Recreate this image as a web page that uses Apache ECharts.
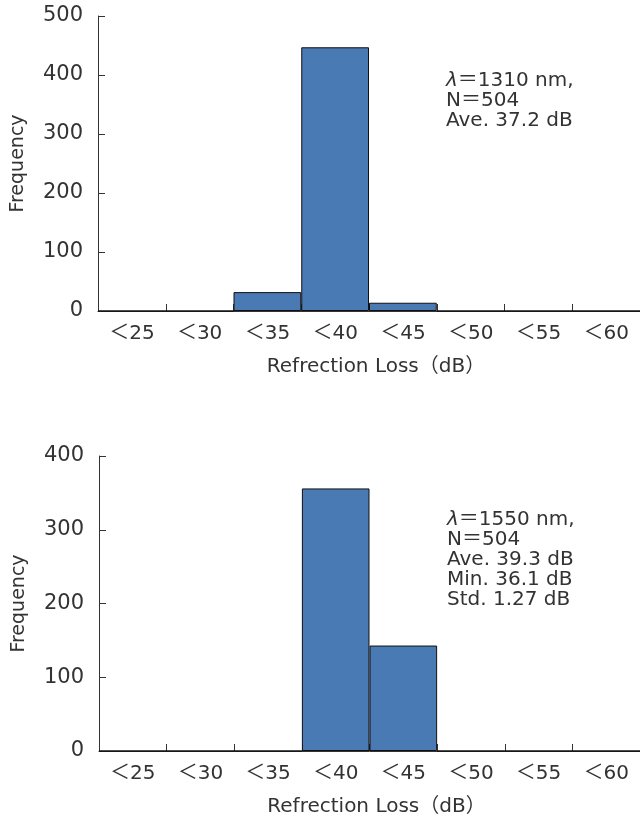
<!DOCTYPE html>
<html>
<head>
<meta charset="utf-8">
<script src="https://cdn.jsdelivr.net/npm/echarts@6/dist/echarts.min.js"></script>
<style>html,body{margin:0;padding:0;background:#fff}#c{width:640px;height:818px}</style>
</head>
<body>
<div id="c"></div>
<script>
const categories = ['＜25', '＜30', '＜35', '＜40', '＜45', '＜50', '＜55', '＜60'];
const freq1310 = [0, 0, 32, 447, 14, 0, 0, 0];
const freq1550 = [0, 0, 0, 356, 143, 0, 0, 0];
const yMax1310 = 500;
const yMax1550 = 400;
const yStep = 100;
const xTitle = 'Refrection Loss（dB）';
const yTitle = 'Frequency';
const note1310 = ['{i|λ}＝1310 nm,', 'N＝504', 'Ave. 37.2 dB'];
const note1550 = ['{i|λ}＝1550 nm,', 'N＝504', 'Ave. 39.3 dB', 'Min. 36.1 dB', 'Std. 1.27 dB'];

const FONT = '"DejaVu Sans", "Noto Sans CJK JP", sans-serif';
const TXT = '#333333';
const AX = '#333333';
const BAR = '#4a7ab4';

function xAxis(gi) {
  return {
    type: 'category', gridIndex: gi, data: categories,
    axisLine: { lineStyle: { color: AX, width: 1 } },
    axisTick: { show: true, interval: 0, inside: true, length: 7, lineStyle: { color: AX, width: 1 } },
    axisLabel: { color: TXT, fontFamily: FONT, fontSize: 20, margin: 13, interval: 0 },
    name: xTitle, nameLocation: 'middle', nameGap: 46,
    nameTextStyle: { color: TXT, fontFamily: FONT, fontSize: 20, padding: [0, 0, 0, 14] }
  };
}
function yAxis(gi, max) {
  return {
    type: 'value', gridIndex: gi, min: 0, max: max, interval: yStep,
    splitLine: { show: false },
    axisLine: { show: true, lineStyle: { color: AX, width: 1 } },
    axisTick: { show: true, inside: true, length: 7, lineStyle: { color: AX, width: 1 } },
    axisLabel: { color: TXT, fontFamily: FONT, fontSize: 21, margin: 15 },
    name: yTitle, nameLocation: 'middle', nameGap: 70, nameRotate: 90,
    nameTextStyle: { color: TXT, fontFamily: FONT, fontSize: 19 }
  };
}
function barSeries(gi, data) {
  return {
    type: 'bar', xAxisIndex: gi, yAxisIndex: gi, data: data,
    barWidth: '100%', barCategoryGap: 0, z: 3,
    itemStyle: { color: BAR, borderColor: '#111', borderWidth: 1 }
  };
}
function note(lines, left, top) {
  return {
    type: 'text', left: left, top: top,
    style: {
      text: lines.join('\n'), fill: TXT, font: '20px ' + FONT, lineHeight: 20,
      rich: { i: { fontStyle: 'italic', fontFamily: FONT, fontSize: 20, fill: TXT } }
    }
  };
}

const chart = echarts.init(document.getElementById('c'));
chart.setOption({
  animation: false,
  backgroundColor: '#fff',
  grid: [
    { left: 98, top: 16, right: 0, height: 295 },
    { left: 99, top: 456, right: -1, height: 295 }
  ],
  xAxis: [xAxis(0), xAxis(1)],
  yAxis: [yAxis(0, yMax1310), yAxis(1, yMax1550)],
  series: [barSeries(0, freq1310), barSeries(1, freq1550)],
  graphic: [note(note1310, 446, 71), note(note1550, 447, 510)]
});
</script>
</body>
</html>
